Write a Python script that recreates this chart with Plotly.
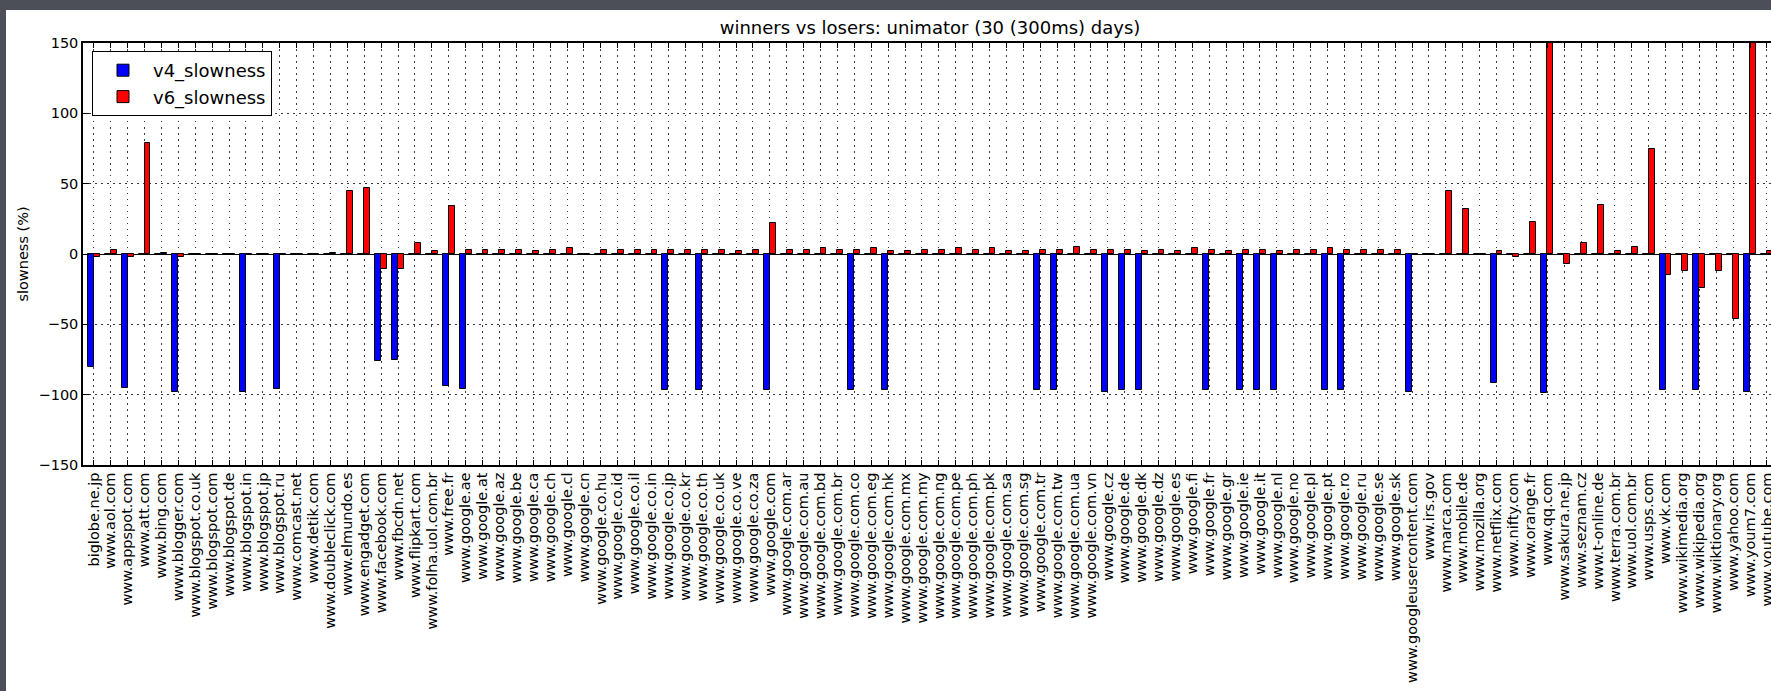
import plotly.graph_objects as go

sites = [
    "biglobe.ne.jp", "www.aol.com", "www.appspot.com", "www.att.com", "www.bing.com",
    "www.blogger.com", "www.blogspot.co.uk", "www.blogspot.com", "www.blogspot.de", "www.blogspot.in",
    "www.blogspot.jp", "www.blogspot.ru", "www.comcast.net", "www.detik.com", "www.doubleclick.com",
    "www.elmundo.es", "www.engadget.com", "www.facebook.com", "www.fbcdn.net", "www.flipkart.com",
    "www.folha.uol.com.br", "www.free.fr", "www.google.ae", "www.google.at", "www.google.az",
    "www.google.be", "www.google.ca", "www.google.ch", "www.google.cl", "www.google.cn",
    "www.google.co.hu", "www.google.co.id", "www.google.co.il", "www.google.co.in", "www.google.co.jp",
    "www.google.co.kr", "www.google.co.th", "www.google.co.uk", "www.google.co.ve", "www.google.co.za",
    "www.google.com", "www.google.com.ar", "www.google.com.au", "www.google.com.bd", "www.google.com.br",
    "www.google.com.co", "www.google.com.eg", "www.google.com.hk", "www.google.com.mx", "www.google.com.my",
    "www.google.com.ng", "www.google.com.pe", "www.google.com.ph", "www.google.com.pk", "www.google.com.sa",
    "www.google.com.sg", "www.google.com.tr", "www.google.com.tw", "www.google.com.ua", "www.google.com.vn",
    "www.google.cz", "www.google.de", "www.google.dk", "www.google.dz", "www.google.es",
    "www.google.fi", "www.google.fr", "www.google.gr", "www.google.ie", "www.google.it",
    "www.google.nl", "www.google.no", "www.google.pl", "www.google.pt", "www.google.ro",
    "www.google.ru", "www.google.se", "www.google.sk", "www.googleusercontent.com", "www.irs.gov",
    "www.marca.com", "www.mobile.de", "www.mozilla.org", "www.netflix.com", "www.nifty.com",
    "www.orange.fr", "www.qq.com", "www.sakura.ne.jp", "www.seznam.cz", "www.t-online.de",
    "www.terra.com.br", "www.uol.com.br", "www.usps.com", "www.vk.com", "www.wikimedia.org",
    "www.wikipedia.org", "www.wiktionary.org", "www.yahoo.com", "www.youm7.com", "www.youtube.com",
]

v4_slowness = [
    -80, 0, -95, 0, 0, -98, 0, 0, 0, -98,
    0, -96, 0, 0, 0, 0, 0, -76, -75, 0,
    0, -94, -96, 0, 0, 0, 0, 0, 0, 0,
    0, 0, 0, 0, -96.5, 0, -97, 0, 0, 0,
    -97, 0, 0, 0, 0, -97, 0, -97, 0, 0,
    0, 0, 0, 0, 0, 0, -97, -96.5, 0, 0,
    -98, -96.5, -97, 0, 0, 0, -97, 0, -97, -97,
    -97, 0, 0, -96.5, -96.5, 0, 0, 0, -98, 0,
    0, 0, 0, -92, 0, 0, -99, 0, 0, 0,
    0, 0, 0, -96.5, 0, -96.5, 0, 0, -98, 0,
]

v6_slowness = [
    -2, 3, -2, 79, 1, -2, 0, 0, 0, 0,
    0, 0, 0, 0, 1, 45, 47, -11, -11, 8,
    2, 34, 3, 3, 3, 3, 2, 3, 4, 0,
    3, 3, 3, 3, 3, 3, 3, 3, 2, 3,
    22, 3, 3, 4, 3, 3, 4, 2, 2, 3,
    3, 4, 3, 4, 2, 2, 3, 3, 5, 3,
    3, 3, 2, 3, 2, 4, 3, 2, 3, 3,
    2, 3, 3, 4, 3, 3, 3, 3, 0, 0,
    45, 32, 0, 2, -2, 23, 240, -7, 8, 35,
    2, 5, 75, -15, -12, -24, -12, -46, 200, 2,
]

y_ticks = [-150, -100, -50, 0, 50, 100, 150]
title_text = "winners vs losers: unimator (30 (300ms) days)"
y_title = "slowness (%)"

# ---- layout geometry (pixels) ----
W, H = 1771, 691
ML, MT, MB, MR = 83, 43, 226, 0
PW = W - ML - MR
PH = H - MT - MB
FIRST_TICK_PX = 93.8
STEP_PX = 16.9


def px_x(px):
    return (px - ML) / PW


def px_y(py):
    return (H - MB - py) / PH


BAR_W = 0.35
FONT = "DejaVu Sans"
positions = list(range(len(sites)))

fig = go.Figure()
fig.add_trace(go.Bar(
    x=positions, y=v4_slowness, name="v4_slowness",
    width=BAR_W, offset=-BAR_W,
    marker=dict(color="#0000ff", line=dict(color="black", width=1)),
))
fig.add_trace(go.Bar(
    x=positions, y=v6_slowness, name="v6_slowness",
    width=BAR_W, offset=0,
    marker=dict(color="#ff0000", line=dict(color="black", width=1)),
))

x_left = -(FIRST_TICK_PX - ML) / STEP_PX
x_right = x_left + PW / STEP_PX

grid_common = dict(
    showgrid=True, gridcolor="#3a3a3a", gridwidth=1, griddash="1.5px,4.5px",
    showline=True, linecolor="black", linewidth=1.5,
    ticks="inside", tickcolor="black", tickwidth=1,
    tickfont=dict(family=FONT, size=14.5, color="black"),
    automargin=False,
)

fig.update_xaxes(
    range=[x_left, x_right],
    tickmode="array", tickvals=positions, ticktext=sites,
    tickangle=-90, ticklen=5, mirror="ticks",
    ticklabeloverflow="allow",
    zeroline=False,
    **grid_common,
)
fig.update_yaxes(
    range=[-150, 150],
    tickmode="array", tickvals=y_ticks, ticktext=[str(v).replace("-", "\u2212") for v in y_ticks],
    ticklen=6, mirror=False,
    zeroline=True, zerolinecolor="black", zerolinewidth=1,
    title=dict(text=y_title, font=dict(family=FONT, size=14.5, color="black"), standoff=6),
    **grid_common,
)

fig.update_layout(
    template="none",
    width=W, height=H,
    margin=dict(l=ML, r=MR, t=MT, b=MB, pad=0),
    paper_bgcolor="#4c4f58",
    plot_bgcolor="white",
    barmode="overlay",
    bargap=0,
    title=dict(
        text=title_text, x=930 / W, xref="container", xanchor="center",
        y=1 - 28 / H, yref="container", yanchor="middle",
        font=dict(family=FONT, size=18, color="black"),
    ),
    legend=dict(
        x=px_x(92), y=px_y(51), xanchor="left", yanchor="top",
        bgcolor="white", bordercolor="black", borderwidth=1,
        font=dict(family=FONT, size=18, color="black"),
        itemwidth=50, tracegroupgap=4,
    ),
    showlegend=True,
    shapes=[dict(
        type="rect", xref="paper", yref="paper", layer="below",
        x0=px_x(6), x1=px_x(W + 20), y0=px_y(H + 20), y1=px_y(10),
        fillcolor="white", line=dict(width=0),
    )],
    font=dict(family=FONT, color="black"),
)

fig.write_html(
    "out.html",
    config={"displayModeBar": False},
    post_script="document.body.style.margin='0';document.body.style.overflow='hidden';"
                "document.body.style.background='#4c4f58';",
)
